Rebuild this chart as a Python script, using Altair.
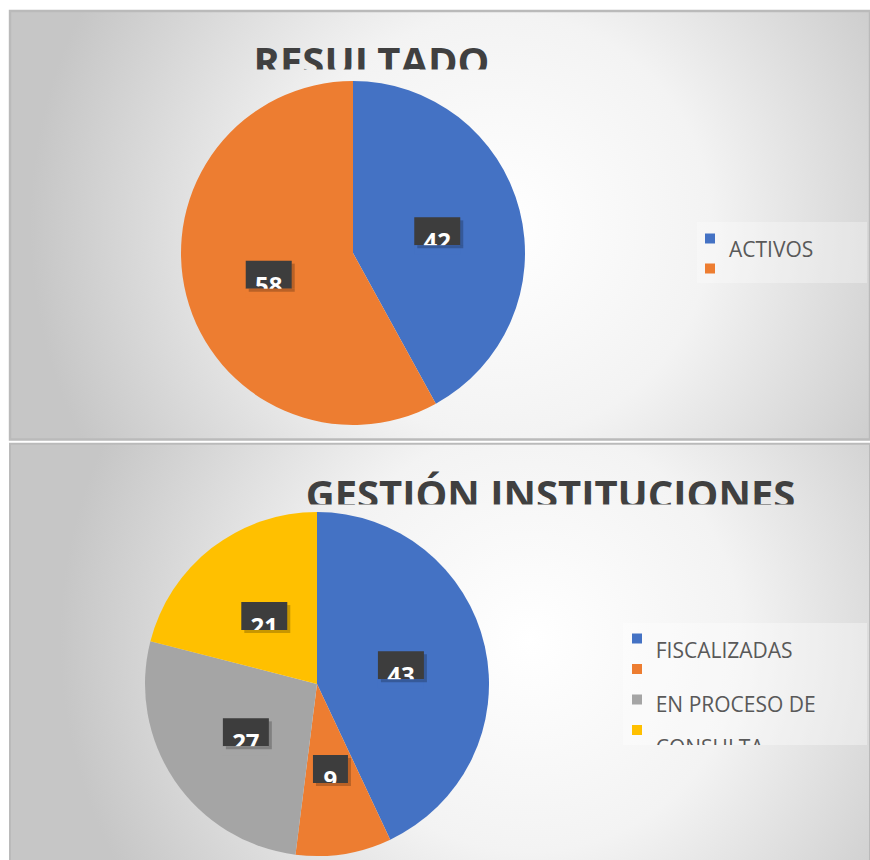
import math
import pandas as pd
import altair as alt

W, H = 870, 860

# ---------------- data ----------------
TOP_TITLE = "RESULTADO"
TOP_LEGEND = ["ACTIVOS", ""]
TOP_VALUES = [42, 58]

BOT_TITLE = "GESTIÓN INSTITUCIONES"
BOT_LEGEND = ["FISCALIZADAS", "", "EN PROCESO DE", "CONSULTA"]
BOT_VALUES = [43, 9, 27, 21]

PALETTE = ["#4472C4", "#ED7D31", "#A5A5A5", "#FFC000"]

# ---------------- layout / style ----------------
FONT = "Open Sans"
XS = alt.Scale(domain=[0, W], range=[0, W], nice=False, zero=False)
YS = alt.Scale(domain=[0, H], range=[0, H], nice=False, zero=False)
STOPS = [
    {"offset": 0.0, "color": "#ffffff"},
    {"offset": 0.45, "color": "#f3f3f3"},
    {"offset": 1.0, "color": "#c6c6c6"},
]

TOP_PANEL = (10, 11, 870, 439.5)
BOT_PANEL = (10, 443.7, 870, 862)
TOP_GRAD_C = (500, 225, 470)
BOT_GRAD_C = (530, 640, 470)


def radial(x0, y0, x1, y1, grad):
    """Radial gradient for a rect, placed in absolute pixel space (SVG pattern logic)."""
    cx, cy, R = grad
    w, h = x1 - x0, y1 - y0
    S = max(w, h)
    nx = (cx - x0 - (w - S) / 2) / S
    ny = (cy - y0 - (h - S) / 2) / S
    return {"gradient": "radial", "x1": nx, "y1": ny, "r1": 0,
            "x2": nx, "y2": ny, "r2": R / S, "stops": STOPS}


ONE = pd.DataFrame({"k": [0]})


def grad_rect(box, grad, stroke=None, sw=0):
    x0, y0, x1, y1 = box
    kw = {"fill": radial(x0, y0, x1, y1, grad)}
    if stroke:
        kw.update(stroke=stroke, strokeWidth=sw)
    else:
        kw.update(strokeWidth=0)
    return alt.Chart(ONE).mark_rect(**kw).encode(
        x=alt.value(x0), x2=alt.value(x1), y=alt.value(y0), y2=alt.value(y1))


def plain_rect(box, color, opacity=1.0):
    x0, y0, x1, y1 = box
    return alt.Chart(ONE).mark_rect(color=color, opacity=opacity).encode(
        x=alt.value(x0), x2=alt.value(x1), y=alt.value(y0), y2=alt.value(y1))


def title_text(text, cx, base):
    return alt.Chart(pd.DataFrame({"t": [text]})).mark_text(
        font=FONT, fontSize=40, fontWeight="bold", color="#404040",
        align="center", baseline="alphabetic").encode(
        x=alt.value(cx), y=alt.value(base), text="t:N")


def legend(labels, mx, my0, step, tx, text_ys):
    df = pd.DataFrame({
        "label": labels,
        "color": PALETTE[:len(labels)],
        "mx": [mx] * len(labels),
        "my": [my0 + i * step for i in range(len(labels))],
        "tx": [tx] * len(labels),
        "ty": text_ys,
    })
    marks = alt.Chart(df).mark_square(size=100, opacity=1, filled=True).encode(
        x=alt.X("mx:Q", scale=XS, axis=None), y=alt.Y("my:Q", scale=YS, axis=None),
        color=alt.Color("color:N", scale=None))
    texts = alt.Chart(df).mark_text(
        font=FONT, fontSize=21, color="#595959", align="left", baseline="alphabetic").encode(
        x=alt.X("tx:Q", scale=XS, axis=None), y=alt.Y("ty:Q", scale=YS, axis=None),
        text="label:N")
    return [marks, texts]


def pie(values, cx, cy, R, LR):
    total = float(sum(values))
    rows, cum = [], 0.0
    for i, v in enumerate(values):
        mid = (cum + v / 2) / total * 2 * math.pi
        cum += v
        lx = cx + LR * math.sin(mid)
        ly = cy - LR * math.cos(mid)
        bw = 24 + 11 * len(str(v))
        rows.append(dict(idx=i, value=v, label=str(v), color=PALETTE[i],
                         lx=lx, ly=ly, x0=lx - bw / 2, x1=lx + bw / 2,
                         y0=ly - 14, y1=ly + 14))
    df = pd.DataFrame(rows)
    df["cy1"] = df["y1"] + 9
    df["sx0"] = df["x0"] + 3
    df["sx1"] = df["x1"] + 3
    df["sy1"] = df["y1"] + 3
    df["sy0"] = df["y0"] + 3

    base = alt.Chart(df)
    arc = base.mark_arc(radius=R).encode(
        theta=alt.Theta("value:Q", stack=True),
        order=alt.Order("idx:Q", sort="ascending"),
        color=alt.Color("color:N", scale=None),
        x=alt.value(cx), y=alt.value(cy))

    def rect(xa, xb, ya, yb, **mk):
        return base.mark_rect(**mk).encode(
            x=alt.X(f"{xa}:Q", scale=XS, axis=None), x2=f"{xb}:Q",
            y=alt.Y(f"{ya}:Q", scale=YS, axis=None), y2=f"{yb}:Q")

    box = rect("x0", "x1", "y0", "y1", color="#3d3d3d")
    txt = base.mark_text(font=FONT, fontSize=24, fontWeight="bold", color="white",
                         align="center", baseline="alphabetic", dy=19).encode(
        x=alt.X("lx:Q", scale=XS, axis=None), y=alt.Y("ly:Q", scale=YS, axis=None),
        text="label:N")
    cover = base.mark_rect().encode(
        x=alt.X("x0:Q", scale=XS, axis=None), x2="x1:Q",
        y=alt.Y("y1:Q", scale=YS, axis=None), y2="cy1:Q",
        color=alt.Color("color:N", scale=None))
    sh_b = rect("sx0", "sx1", "y1", "sy1", color="black", opacity=0.22)
    sh_r = rect("x1", "sx1", "sy0", "y1", color="black", opacity=0.22)
    return [arc, box, txt, cover, sh_b, sh_r]


layers = []
# panels
layers.append(grad_rect(TOP_PANEL, TOP_GRAD_C, stroke="#bababa", sw=2.4))
layers.append(grad_rect(BOT_PANEL, BOT_GRAD_C, stroke="#bababa", sw=2))

# titles (clipped at the bottom, as in the source)
layers.append(title_text(TOP_TITLE, 371.5, 76))
layers.append(grad_rect((240, 69.5, 505, 84), TOP_GRAD_C))
layers.append(title_text(BOT_TITLE, 550.5, 508.6))
layers.append(grad_rect((290, 504.5, 812, 516), BOT_GRAD_C))

# legends
layers.append(plain_rect((697, 222, 867, 283), "white", 0.3))
layers.append(plain_rect((623, 623, 867, 745), "white", 0.35))
layers += legend(TOP_LEGEND, 710, 238.5, 30, 729, [257, 287])
layers += legend(BOT_LEGEND, 637, 638.5, 30.5, 655.7, [658, 688, 712, 755])
layers.append(grad_rect((630, 745, 812, 764), BOT_GRAD_C))

# pies
layers += pie(TOP_VALUES, 353, 253, 172, 87)
layers += pie(BOT_VALUES, 317, 684, 172, 86)

chart = alt.layer(*layers).properties(
    width=W, height=H, autosize=alt.AutoSizeParams(type="none"), padding=0,
    background="white",
).resolve_scale(theta="independent").configure_view(stroke=None)

chart.save("out.html", embed_options={"renderer": "svg", "actions": False})
